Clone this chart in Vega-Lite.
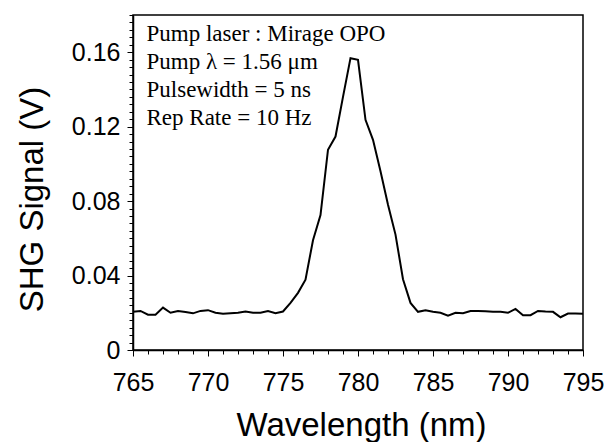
{
  "$schema": "https://vega.github.io/schema/vega-lite/v6.json",
  "width": 450,
  "height": 335,
  "autosize": {"type": "none"},
  "padding": {"left": 133, "top": 15, "right": 27, "bottom": 92},
  "background": "white",
  "config": {
    "view": {"stroke": "black", "strokeWidth": 1.5},
    "axis": {"grid": false, "domainColor": "black", "tickColor": "black", "labelColor": "black", "titleColor": "black", "labelFont": "Liberation Sans", "titleFont": "Liberation Sans", "titleFontWeight": "normal", "domainWidth": 1.5, "tickWidth": 1}
  },
  "data": {
    "values": [
      {"wl": 765.0, "v": 0.0205}, {"wl": 765.5, "v": 0.0210}, {"wl": 766.0, "v": 0.0190}, {"wl": 766.5, "v": 0.0190},
      {"wl": 767.0, "v": 0.0228}, {"wl": 767.5, "v": 0.0200}, {"wl": 768.0, "v": 0.0210}, {"wl": 768.5, "v": 0.0204},
      {"wl": 769.0, "v": 0.0197}, {"wl": 769.5, "v": 0.0210}, {"wl": 770.0, "v": 0.0214}, {"wl": 770.5, "v": 0.0200},
      {"wl": 771.0, "v": 0.0195}, {"wl": 771.5, "v": 0.0198}, {"wl": 772.0, "v": 0.0200}, {"wl": 772.5, "v": 0.0207},
      {"wl": 773.0, "v": 0.0200}, {"wl": 773.5, "v": 0.0200}, {"wl": 774.0, "v": 0.0210}, {"wl": 774.5, "v": 0.0198},
      {"wl": 775.0, "v": 0.0207}, {"wl": 775.5, "v": 0.0253}, {"wl": 776.0, "v": 0.0307}, {"wl": 776.5, "v": 0.0378},
      {"wl": 777.0, "v": 0.0590}, {"wl": 777.5, "v": 0.0725}, {"wl": 778.0, "v": 0.1076}, {"wl": 778.5, "v": 0.1147},
      {"wl": 779.0, "v": 0.1360}, {"wl": 779.5, "v": 0.1568}, {"wl": 780.0, "v": 0.1559}, {"wl": 780.5, "v": 0.1237},
      {"wl": 781.0, "v": 0.1129}, {"wl": 781.5, "v": 0.0960}, {"wl": 782.0, "v": 0.0780}, {"wl": 782.5, "v": 0.0620},
      {"wl": 783.0, "v": 0.0380}, {"wl": 783.5, "v": 0.0253}, {"wl": 784.0, "v": 0.0205}, {"wl": 784.5, "v": 0.0214},
      {"wl": 785.0, "v": 0.0205}, {"wl": 785.5, "v": 0.0200}, {"wl": 786.0, "v": 0.0185}, {"wl": 786.5, "v": 0.0200},
      {"wl": 787.0, "v": 0.0198}, {"wl": 787.5, "v": 0.0210}, {"wl": 788.0, "v": 0.0210}, {"wl": 788.5, "v": 0.0208},
      {"wl": 789.0, "v": 0.0205}, {"wl": 789.5, "v": 0.0205}, {"wl": 790.0, "v": 0.0200}, {"wl": 790.5, "v": 0.0221},
      {"wl": 791.0, "v": 0.0187}, {"wl": 791.5, "v": 0.0187}, {"wl": 792.0, "v": 0.0210}, {"wl": 792.5, "v": 0.0207},
      {"wl": 793.0, "v": 0.0205}, {"wl": 793.5, "v": 0.0176}, {"wl": 794.0, "v": 0.0196}, {"wl": 794.5, "v": 0.0196},
      {"wl": 795.0, "v": 0.0195}
    ]
  },
  "resolve": {"axis": {"x": "independent", "y": "independent"}},
  "layer": [
    {
      "mark": {"type": "line", "strokeOpacity": 0},
      "encoding": {
        "x": {"field": "wl", "type": "quantitative", "scale": {"domain": [765, 795], "nice": false, "zero": false},
          "axis": {"orient": "bottom", "values": [765,766,767,768,769,770,771,772,773,774,775,776,777,778,779,780,781,782,783,784,785,786,787,788,789,790,791,792,793,794,795], "labels": false, "domain": false, "tickSize": 4, "title": null}},
        "y": {"field": "v", "type": "quantitative", "scale": {"domain": [0, 0.18], "nice": false},
          "axis": {"orient": "left", "values": [0,0.004,0.008,0.012,0.016,0.02,0.024,0.028,0.032,0.036,0.04,0.044,0.048,0.052,0.056,0.06,0.064,0.068,0.072,0.076,0.08,0.084,0.088,0.092,0.096,0.1,0.104,0.108,0.112,0.116,0.12,0.124,0.128,0.132,0.136,0.14,0.144,0.148,0.152,0.156,0.16,0.164,0.168,0.172,0.176,0.18], "labels": false, "domain": false, "tickSize": 4, "title": null}}
      }
    },
    {
      "mark": {"type": "line", "color": "black", "strokeWidth": 2},
      "encoding": {
        "x": {"field": "wl", "type": "quantitative", "scale": {"domain": [765, 795], "nice": false, "zero": false},
          "axis": {"orient": "bottom", "values": [765, 770, 775, 780, 785, 790, 795], "format": "d", "tickSize": 6, "labelFontSize": 25, "labelPadding": 14, "labelFlush": false, "title": "Wavelength (nm)", "titleFontSize": 33, "titleX": 228, "titleY": 85, "titleBaseline": "alphabetic"}},
        "y": {"field": "v", "type": "quantitative", "scale": {"domain": [0, 0.18], "nice": false},
          "axis": {"orient": "left", "values": [0, 0.04, 0.08, 0.12, 0.16], "format": ".2~f", "tickSize": 6, "labelFontSize": 25, "labelPadding": 7, "labelFlush": false, "title": "SHG Signal (V)", "titleFontSize": 33, "titleAngle": -90, "titleX": -91, "titleY": 184, "titleBaseline": "alphabetic", "titleAlign": "center"}}
      }
    },
    {
      "data": {"values": [{"note": "conditions"}]},
      "mark": {"type": "text", "align": "left", "baseline": "alphabetic", "font": "Liberation Serif", "fontWeight": "normal", "fontSize": 23, "lineHeight": 28, "fill": "black",
        "text": ["Pump laser : Mirage OPO", "Pump λ = 1.56 μm", "Pulsewidth = 5 ns", "Rep Rate = 10 Hz"]},
      "encoding": {
        "x": {"datum": 765.9, "type": "quantitative", "axis": null},
        "y": {"datum": 0.166, "type": "quantitative", "axis": null}
      }
    }
  ]
}
